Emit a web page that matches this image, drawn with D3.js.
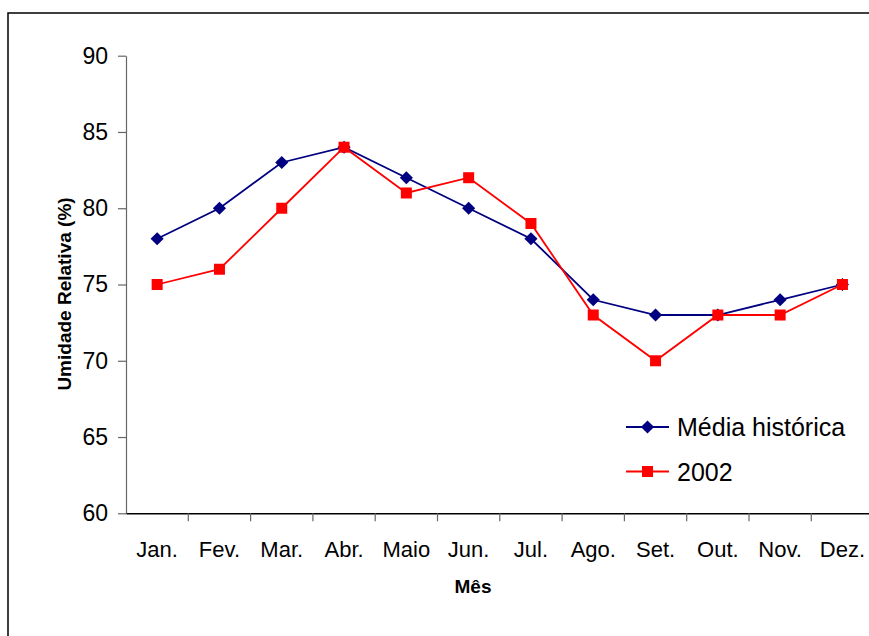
<!DOCTYPE html>
<html>
<head>
<meta charset="utf-8">
<script src="https://cdn.jsdelivr.net/npm/d3@7"></script>
<style>
  body { margin: 0; background: #fff; }
  svg { display: block; font-family: Arial, "Liberation Sans", sans-serif; }
</style>
</head>
<body>
<svg width="869" height="636"></svg>
<script>
// months and the two series (relative humidity, %)
var months = ["Jan.", "Fev.", "Mar.", "Abr.", "Maio", "Jun.", "Jul.", "Ago.", "Set.", "Out.", "Nov.", "Dez."];
var mediaHistorica = [78, 80, 83, 84, 82, 80, 78, 74, 73, 73, 74, 75];
var ano2002 = [75, 76, 80, 84, 81, 82, 79, 73, 70, 73, 73, 75];
var yTicks = [60, 65, 70, 75, 80, 85, 90];

var svg = d3.select("svg");

// outer chart frame (runs off the right and bottom edges)
svg.append("rect")
    .attr("x", 8).attr("y", 13)
    .attr("width", 900).attr("height", 700)
    .attr("fill", "none")
    .attr("stroke", "#000")
    .attr("stroke-width", 1.5);

var x0 = 126, bw = 62.3;
var x = d3.scaleBand().domain(months).range([x0, x0 + bw * months.length]);
var y = d3.scaleLinear().domain([60, 90]).range([513.3, 55.7]);

// y axis
var yAxis = svg.append("g")
    .attr("transform", "translate(" + x0 + ",0)")
    .call(d3.axisLeft(y).tickValues(yTicks).tickSize(8).tickPadding(10).tickSizeOuter(0));
yAxis.select(".domain").attr("stroke", "#666").attr("stroke-width", 1.2);
yAxis.selectAll(".tick line").attr("stroke", "#666").attr("stroke-width", 1.2);
yAxis.selectAll("text")
    .attr("font-size", 23)
    .attr("font-family", "Arial, 'Liberation Sans', sans-serif")
    .attr("fill", "#000");

// x axis: labels centred in bands, ticks on band boundaries
var xAxis = svg.append("g")
    .attr("transform", "translate(0," + y(60) + ")")
    .call(d3.axisBottom(x).tickSize(0).tickPadding(28).tickSizeOuter(0));
xAxis.select(".domain").attr("stroke", "#000").attr("stroke-width", 1.5);
xAxis.selectAll("text")
    .attr("font-size", 22)
    .attr("font-family", "Arial, 'Liberation Sans', sans-serif")
    .attr("fill", "#000");

xAxis.selectAll(".bound")
    .data(months.slice(1))
    .enter().append("line")
    .attr("class", "bound")
    .attr("x1", function(d) { return x(d); })
    .attr("x2", function(d) { return x(d); })
    .attr("y1", 0).attr("y2", 8)
    .attr("stroke", "#666")
    .attr("stroke-width", 1.2);

// axis titles
svg.append("text")
    .attr("x", 473).attr("y", 593)
    .attr("text-anchor", "middle")
    .attr("font-size", 19)
    .attr("font-weight", "bold")
    .text("Mês");

svg.append("text")
    .attr("transform", "translate(71,294) rotate(-90)")
    .attr("text-anchor", "middle")
    .attr("font-size", 19)
    .attr("font-weight", "bold")
    .text("Umidade Relativa (%)");

var line = d3.line()
    .x(function(d, i) { return x(months[i]) + x.bandwidth() / 2; })
    .y(function(d) { return y(d); });

var diamond = d3.symbol().type(d3.symbolDiamond2).size(110);

// Média histórica
svg.append("path")
    .datum(mediaHistorica)
    .attr("d", line)
    .attr("fill", "none")
    .attr("stroke", "#000080")
    .attr("stroke-width", 1.8);

svg.selectAll(".dia")
    .data(mediaHistorica)
    .enter().append("path")
    .attr("class", "dia")
    .attr("d", diamond)
    .attr("transform", function(d, i) {
        return "translate(" + (x(months[i]) + x.bandwidth() / 2) + "," + y(d) + ")";
    })
    .attr("fill", "#000080");

// 2002
svg.append("path")
    .datum(ano2002)
    .attr("d", line)
    .attr("fill", "none")
    .attr("stroke", "#ff0000")
    .attr("stroke-width", 1.8);

svg.selectAll(".sq")
    .data(ano2002)
    .enter().append("rect")
    .attr("class", "sq")
    .attr("x", function(d, i) { return x(months[i]) + x.bandwidth() / 2 - 5.5; })
    .attr("y", function(d) { return y(d) - 5.5; })
    .attr("width", 11).attr("height", 11)
    .attr("fill", "#ff0000");

// legend
var legend = [
    { name: "Média histórica", color: "#000080", mark: "diamond", y: 427 },
    { name: "2002", color: "#ff0000", mark: "square", y: 471.5 }
];
var lg = svg.selectAll(".lg")
    .data(legend)
    .enter().append("g")
    .attr("class", "lg")
    .attr("transform", function(d) { return "translate(626," + d.y + ")"; });

lg.append("line")
    .attr("x1", 0).attr("x2", 43)
    .attr("stroke", function(d) { return d.color; })
    .attr("stroke-width", 1.8);

lg.filter(function(d) { return d.mark === "diamond"; })
    .append("path")
    .attr("d", diamond)
    .attr("transform", "translate(21.5,0)")
    .attr("fill", function(d) { return d.color; });

lg.filter(function(d) { return d.mark === "square"; })
    .append("rect")
    .attr("x", 16).attr("y", -5.5)
    .attr("width", 11).attr("height", 11)
    .attr("fill", function(d) { return d.color; });

lg.append("text")
    .attr("x", 51).attr("y", 0)
    .attr("dy", "0.36em")
    .attr("font-size", 25)
    .text(function(d) { return d.name; });
</script>
</body>
</html>
